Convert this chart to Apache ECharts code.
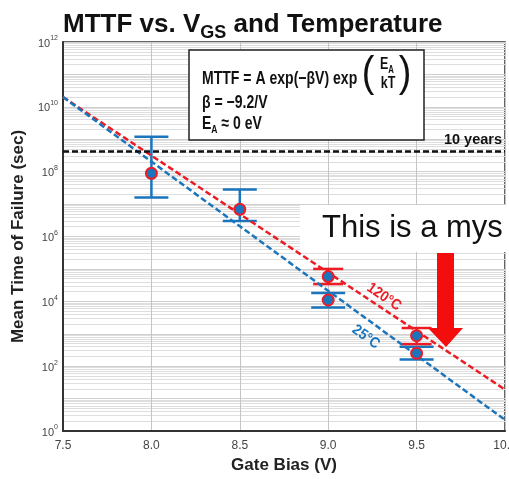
<!DOCTYPE html>
<html><head><meta charset="utf-8">
<script src="https://cdn.jsdelivr.net/npm/echarts@6/dist/echarts.min.js"></script>
<style>html,body{margin:0;padding:0;background:#fff}#c{width:509px;height:479px}</style>
</head><body><div id="c"></div><script>
// Data
const gateBias25 = [8.0, 8.5, 9.0, 9.5];
const mttf25 = [8.9e7, 6.9e6, 1.1e4, 250];
const low25 = [1.6e7, 3.0e6, 6.5e3, 160];
const high25 = [1.2e9, 2.8e7, 1.8e4, 400];
const gateBias120 = [9.0, 9.5];
const mttf120 = [5.8e4, 870];
const low120 = [3.4e4, 480];
const high120 = [1.0e5, 1.5e3];
const fitBias = [7.5, 10.0];
const fit25 = [2.0e10, 2.2];
const fit120 = [2.0e10, 19];
const tenYears = 4.4e8;

const BLUE = '#1b75bc', RED = '#ed1c24';
const SANS = '"Liberation Sans", Arial, sans-serif';
const chart = echarts.init(document.getElementById('c'));

function errSeries(xs, lo, hi, color, half) {
  return {
    type: 'custom', z: 3,
    data: xs.map((x, i) => [x, lo[i], hi[i]]),
    encode: {x: 0, y: [1, 2]},
    renderItem: function (params, api) {
      const x = api.value(0);
      const a = api.coord([x, api.value(1)]);
      const b = api.coord([x, api.value(2)]);
      const st = {stroke: color, lineWidth: 2.5};
      return {type: 'group', children: [
        {type: 'line', shape: {x1: a[0], y1: a[1], x2: b[0], y2: b[1]}, style: st},
        {type: 'line', shape: {x1: a[0] - half, y1: a[1], x2: a[0] + half, y2: a[1]}, style: st},
        {type: 'line', shape: {x1: b[0] - half, y1: b[1], x2: b[0] + half, y2: b[1]}, style: st}
      ]};
    }
  };
}

function condText(x, y, text, font, extra, sx) {
  return Object.assign({type: 'text', z: 101, x: x, y: y, scaleX: sx || 0.78,
    style: Object.assign({x: 0, y: 0, text: text, font: font, fill: '#111', verticalAlign: 'middle'}, extra || {})});
}

const option = {
  animation: false,
  backgroundColor: '#fff',
  title: {
    text: '{a|MTTF vs. V}{b|GS}{a| and Temperature}',
    left: 58, top: 3,
    textStyle: {
      rich: {
        a: {fontFamily: SANS, fontWeight: 'bold', fontSize: 26, color: '#111', lineHeight: 30, verticalAlign: 'bottom'},
        b: {fontFamily: SANS, fontWeight: 'bold', fontSize: 18, color: '#111', lineHeight: 30, verticalAlign: 'bottom', padding: [0, 0, -4, 0]}
      }
    }
  },
  grid: {left: 63, right: 4, top: 42, bottom: 48, show: true, borderColor: '#333', borderWidth: 1.5,
    backgroundColor: 'transparent', outerBoundsMode: 'none', containLabel: false},
  xAxis: {
    type: 'value', min: 7.5, max: 10, interval: 0.5,
    name: 'Gate Bias (V)', nameLocation: 'middle', nameGap: 26,
    nameTextStyle: {fontFamily: SANS, fontWeight: 'bold', fontSize: 17, color: '#222'},
    axisLine: {show: true, lineStyle: {color: '#333', width: 2}},
    axisTick: {show: false},
    axisLabel: {formatter: v => v.toFixed(1), fontFamily: SANS, fontSize: 12, color: '#444', margin: 9},
    splitLine: {show: true, lineStyle: {color: '#c4c4c4', width: 1}}
  },
  yAxis: {
    type: 'log', logBase: 10, min: 1, max: 1e12, interval: 1,
    name: 'Mean Time of Failure (sec)', nameLocation: 'middle', nameGap: 36,
    nameTextStyle: {fontFamily: SANS, fontWeight: 'bold', fontSize: 17, color: '#222'},
    axisLine: {show: true, lineStyle: {color: '#333', width: 2}},
    axisTick: {show: false},
    axisLabel: {
      margin: 5, showMinLabel: true, showMaxLabel: true,
      formatter: function (v) {
        const e = Math.round(Math.log10(v));
        return e % 2 === 0 ? '{b|10}{s|' + e + '}' : '';
      },
      rich: {
        b: {fontFamily: SANS, fontSize: 11, color: '#444', lineHeight: 14, verticalAlign: 'bottom'},
        s: {fontFamily: SANS, fontSize: 7, color: '#444', lineHeight: 14, verticalAlign: 'top'}
      }
    },
    splitLine: {show: true, lineStyle: {color: '#cfcfcf', width: 1}},
    minorTick: {show: false, splitNumber: 9},
    minorSplitLine: {show: true, lineStyle: {color: '#dedede', width: 1}}
  },
  graphic: [
    {type: 'rect', z: 100, shape: {x: 189, y: 50, width: 235, height: 90}, style: {fill: '#fff', stroke: '#222', lineWidth: 1.5}},
    condText(202, 79, 'MTTF = A exp(\u2212\u03b2V) exp', 'bold 18px ' + SANS),
    condText(368, 74, '(', '42px ' + SANS, {align: 'center'}, 0.9),
    condText(405, 74, ')', '42px ' + SANS, {align: 'center'}, 0.9),
    condText(387, 66, '{e|E}{s|A}', '', {align: 'center',
      rich: {e: {font: 'bold 16px ' + SANS, fill: '#111', lineHeight: 18, verticalAlign: 'top'}, s: {font: 'bold 10px ' + SANS, fill: '#111', lineHeight: 18, verticalAlign: 'bottom'}}}),
    condText(388, 84, 'kT', 'bold 16px ' + SANS, {align: 'center'}),
    condText(202, 103, '\u03b2 = \u22129.2/V', 'bold 18px ' + SANS),
    condText(202, 125, '{e|E}{s|A}{e| \u2248 0 eV}', '', {
      rich: {e: {font: 'bold 18px ' + SANS, fill: '#111', lineHeight: 20, verticalAlign: 'top'}, s: {font: 'bold 11px ' + SANS, fill: '#111', lineHeight: 20, verticalAlign: 'bottom'}}}),
    {type: 'text', z: 50, x: 384, y: 297, rotation: -0.6, scaleX: 0.9, style: {x: 0, y: 0, text: '120\u00b0C', font: 'bold 15px ' + SANS, fill: RED, align: 'center', verticalAlign: 'middle'}},
    {type: 'text', z: 50, x: 366, y: 337, rotation: -0.63, scaleX: 0.9, style: {x: 0, y: 0, text: '25\u00b0C', font: 'bold 15px ' + SANS, fill: BLUE, align: 'center', verticalAlign: 'middle'}},
    {type: 'rect', z: 110, shape: {x: 300, y: 205, width: 209, height: 47}, style: {fill: '#fff'}},
    {type: 'text', z: 111, style: {x: 322, y: 228, text: 'This is a mys', font: '31px ' + SANS, fill: '#111', verticalAlign: 'middle'}},
    {type: 'polygon', z: 112, shape: {points: [[437, 253], [454, 253], [454, 328], [463, 328], [446, 347], [428, 328], [437, 328]]}, style: {fill: '#f30d0d'}}
  ],
  series: [
    errSeries(gateBias25, low25, high25, BLUE, 17),
    errSeries(gateBias120, low120, high120, RED, 15),
    {
      type: 'line', z: 4, symbol: 'none', data: fitBias.map((x, i) => [x, fit120[i]]),
      lineStyle: {color: RED, width: 2.5, type: [6, 3]}
    },
    {
      type: 'line', z: 4, symbol: 'none', data: fitBias.map((x, i) => [x, fit25[i]]),
      lineStyle: {color: BLUE, width: 2.5, type: [6, 3]},
      markLine: {
        silent: true, symbol: 'none',
        lineStyle: {color: '#111', width: 2.5, type: [6, 3]},
        label: {show: true, position: 'insideEndTop', formatter: '10 years', fontFamily: SANS, fontWeight: 'bold', fontSize: 14.5, color: '#111', distance: 3},
        data: [{yAxis: tenYears}]
      }
    },
    {
      type: 'scatter', z: 6, symbolSize: 11, data: gateBias25.map((x, i) => [x, mttf25[i]]),
      itemStyle: {color: BLUE, borderColor: RED, borderWidth: 2, opacity: 1}
    },
    {
      type: 'scatter', z: 6, symbolSize: 11, data: gateBias120.map((x, i) => [x, mttf120[i]]),
      itemStyle: {color: BLUE, borderColor: RED, borderWidth: 2, opacity: 1}
    }
  ]
};
chart.setOption(option);
</script></body></html>
